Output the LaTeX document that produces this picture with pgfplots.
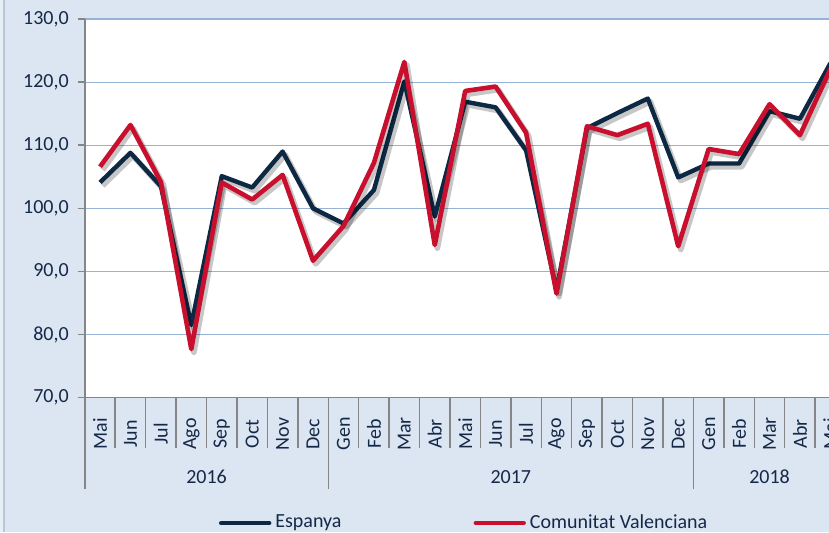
\documentclass[border=0pt]{standalone}
\usepackage{pgfplots}
\pgfplotsset{compat=1.18}
\usepackage{pgfplotstable}
\usepackage{fontspec}
\setmainfont{Carlito}
\usetikzlibrary{backgrounds}
\definecolor{bgblue}{RGB}{220,230,242}
\definecolor{bgedge}{RGB}{232,238,246}
\definecolor{gridblue}{RGB}{149,179,215}
\definecolor{navy}{RGB}{12,40,66}
\definecolor{cvred}{RGB}{200,16,46}
\definecolor{txt}{RGB}{20,40,72}
\definecolor{axgray}{RGB}{134,134,134}

\pgfplotstableread{
x esp cv
0 104.1 106.6
1 108.8 113.2
2 103.5 104.2
3 81.5 77.7
4 105.1 104.1
5 103.3 101.4
6 109.0 105.3
7 100.0 91.7
8 97.6 97.2
9 102.9 107.2
10 120.1 123.2
11 98.7 94.2
12 116.9 118.6
13 116.0 119.3
14 109.2 112.0
15 87.0 86.5
16 112.7 113.0
17 115.1 111.6
18 117.4 113.4
19 104.9 94.0
20 107.1 109.4
21 107.1 108.6
22 115.4 116.5
23 114.2 111.6
24 123.0 122.1
}\data

\begin{document}
\begin{tikzpicture}[font=\fontsize{10}{12}\selectfont]
\begin{axis}[name=ax, scale only axis, width=380.4pt, height=189.35pt,
  xmin=-0.5, xmax=24.5, ymin=70, ymax=130,
  clip=false,
  axis background/.style={fill=white},
  axis x line*=bottom, axis y line*=left,
  axis line style={axgray, line width=0.75pt},
  ytick={70,80,...,130},
  ymajorgrids, grid style={gridblue, line width=0.6pt},
  tick align=outside,
  every tick/.style={axgray, line width=0.75pt},
  major tick length=3.5pt,
  minor tick length=25pt,
  /pgf/number format/assume math mode=true,
  yticklabel style={txt, xshift=-1pt, /pgf/number format/.cd, fixed, fixed zerofill, precision=1, use comma, 1000 sep={}},
  xtick={0,...,24},
  xticklabels={Mai,Jun,Jul,Ago,Sep,Oct,Nov,Dec,Gen,Feb,Mar,Abr,Mai,Jun,Jul,Ago,Sep,Oct,Nov,Dec,Gen,Feb,Mar,Abr,Mai},
  major x tick style={draw=none},
  minor xtick={-0.5,0.5,...,24.5},
  xticklabel style={txt, yshift=-14.65pt, rotate=90, anchor=center},
  extra x ticks={-0.5,7.5,19.5},
  extra x tick labels={},
  extra x tick style={major tick length=45.65pt, major x tick style={draw=axgray, line width=0.75pt}},
  legend image code/.code={\draw[#1, line width=2.2pt, line cap=round] (0pt,0pt) -- (24pt,0pt);},
  legend style={at={(0.5,-0.331)}, anchor=center, draw=none, fill=none, legend columns=2,
    text=txt, font=\fontsize{10}{12}\selectfont,
    /tikz/every even column/.append style={column sep=64pt}},
]
\addplot[forget plot, black, opacity=0.22, line width=2.8pt, line join=round, xshift=1.3pt, yshift=-1.6pt] table[x=x,y=esp]{\data};
\addplot[navy, line width=2.2pt, line join=round] table[x=x,y=esp]{\data};
\addlegendentry{Espanya}
\addplot[forget plot, black, opacity=0.22, line width=2.8pt, line join=round, xshift=1.3pt, yshift=-1.6pt] table[x=x,y=cv]{\data};
\addplot[cvred, line width=2.3pt, line join=round] table[x=x,y=cv]{\data};
\addlegendentry{Comunitat Valenciana}
\node[txt, anchor=center, yshift=-39.65pt] at (axis cs:3.5,70) {2016};
\node[txt, anchor=center, yshift=-39.65pt] at (axis cs:13.5,70) {2017};
\node[txt, anchor=center, yshift=-39.65pt] at (axis cs:22,70) {2018};
\end{axis}
\begin{scope}[on background layer]
\fill[bgblue] ([shift={(-42.4pt,-67.15pt)}]ax.south west) rectangle ([shift={(372.1pt,9.5pt)}]ax.north west);
\fill[bgedge] ([shift={(-42.4pt,-67.15pt)}]ax.south west) rectangle ([shift={(-40.6pt,9.5pt)}]ax.north west);
\draw[color={rgb,255:red,185;green,198;blue,215}, line width=0.6pt] ([shift={(-40.4pt,-67.15pt)}]ax.south west) -- ([shift={(-40.4pt,9.5pt)}]ax.north west);
\end{scope}
\pgfresetboundingbox
\path[use as bounding box] ([shift={(-42.4pt,-67.15pt)}]ax.south west) rectangle ([shift={(372.1pt,9.5pt)}]ax.north west);
\end{tikzpicture}
\end{document}
